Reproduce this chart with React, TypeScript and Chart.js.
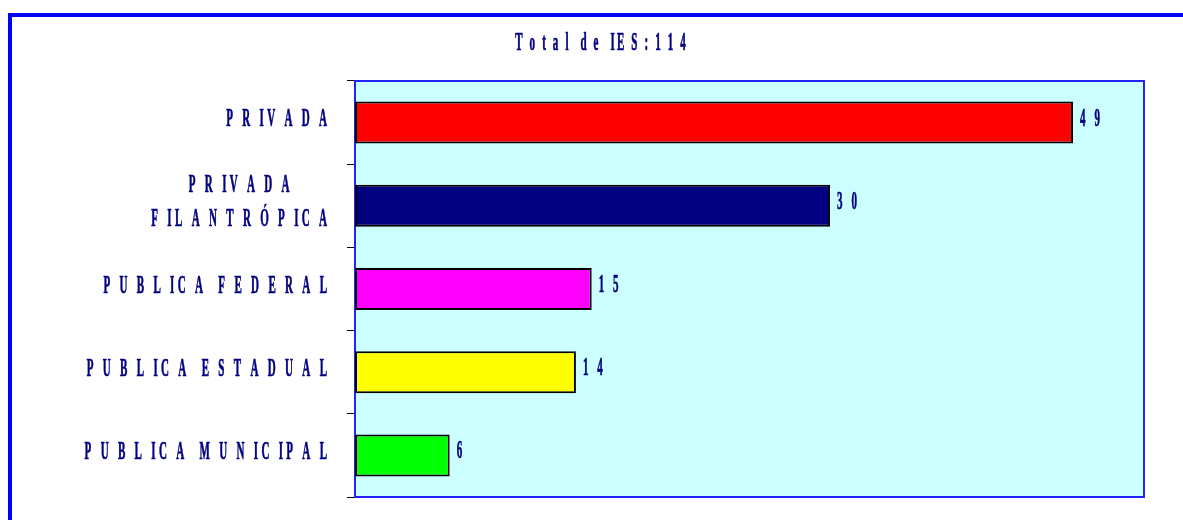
import React, { useEffect, useRef } from "react";
import { Chart, registerables } from "chart.js";

Chart.register(...registerables);

// ---- data ----
const categories = ["PRIVADA", "PRIVADA FILANTRÓPICA", "PUBLICA FEDERAL", "PUBLICA ESTADUAL", "PUBLICA MUNICIPAL"];
// category labels as printed (letter-spaced, possibly on two lines)
const categoryLines: string[][] = [
  ["P R IV A D A"],
  ["P R IV A D A", "F IL A N T R Ó P IC A"],
  ["P U B L IC A  F E D E R A L"],
  ["P U B L IC A  E S T A D U A L"],
  ["P U B L IC A  M U N IC IP A L"],
];
// bar lengths as drawn on the 0..50 axis
const barValues = [45.5, 30.1, 15, 14, 6];
// printed value labels
const valueLabels = ["4 9", "3 0", "1 5", "1 4", "6"];
const barColors = ["#FF0000", "#000080", "#FF00FF", "#FFFF00", "#00FF00"];
const titleText = "T o t a l  d e  IE S : 1 1 4";
const axisMin = 0;
const axisMax = 50;

const TEXT_COLOR = "#000080";
const FONT = 'bold 25px "Liberation Serif", "Times New Roman", serif';
const SX = 0.44;
const CAT_LS = 7.5;

function drawCondensed(
  ctx: CanvasRenderingContext2D,
  text: string,
  x: number,
  y: number,
  align: "left" | "right" | "center",
  ls: number
) {
  ctx.save();
  ctx.font = FONT;
  (ctx as any).letterSpacing = ls + "px";
  ctx.textAlign = "left";
  ctx.textBaseline = "alphabetic";
  ctx.fillStyle = TEXT_COLOR;
  ctx.strokeStyle = TEXT_COLOR;
  ctx.lineWidth = 0.7;
  ctx.lineJoin = "round";
  const w = (ctx.measureText(text).width - ls) * SX;
  let x0 = x;
  if (align === "right") x0 = x - w;
  else if (align === "center") x0 = x - w / 2;
  ctx.translate(x0, y);
  ctx.scale(SX, 1);
  ctx.fillText(text, 0, 0);
  ctx.strokeText(text, 0, 0);
  ctx.restore();
  return w;
}

const framePlugin = {
  id: "plotFrame",
  beforeDatasetsDraw(chart: any) {
    const { ctx, chartArea: a } = chart;
    ctx.save();
    ctx.fillStyle = "#CCFFFF";
    ctx.fillRect(a.left, a.top, a.right - a.left, a.bottom - a.top);
    ctx.strokeStyle = "#2222FF";
    ctx.lineWidth = 2;
    ctx.strokeRect(a.left, a.top, a.right - a.left, a.bottom - a.top);
    ctx.restore();
  },
  afterDatasetsDraw(chart: any) {
    const { ctx } = chart;
    const yScale = chart.scales.y;
    const meta = chart.getDatasetMeta(0);
    // title
    drawCondensed(ctx, titleText, chart.width / 2 + 9, 50, "center", 4.9);
    categoryLines.forEach((lines, i) => {
      const cy = yScale.getPixelForValue(i);
      if (lines.length === 1) {
        drawCondensed(ctx, lines[0], 327, cy + 3.5, "right", CAT_LS);
      } else {
        ctx.save();
        ctx.font = FONT;
        (ctx as any).letterSpacing = CAT_LS + "px";
        const widths = lines.map((l) => (ctx.measureText(l).width - CAT_LS) * SX);
        ctx.restore();
        const bw = Math.max(...widths);
        const cx = 327 - bw / 2;
        drawCondensed(ctx, lines[0], cx, cy - 14, "center", CAT_LS);
        drawCondensed(ctx, lines[1], cx, cy + 20, "center", CAT_LS);
      }
      const bar = meta.data[i];
      drawCondensed(ctx, valueLabels[i], bar.x + 7, bar.y + 3, "left", 7);
    });
  },
};

export default function App() {
  const ref = useRef<HTMLCanvasElement>(null);
  useEffect(() => {
    if (!ref.current) return;
    const chart = new Chart(ref.current, {
      type: "bar",
      data: {
        labels: categories,
        datasets: [
          {
            data: barValues,
            backgroundColor: barColors,
            borderColor: "#000000",
            borderWidth: 2,
            borderSkipped: false,
            categoryPercentage: 1,
            barPercentage: 0.505,
          },
        ],
      },
      options: {
        indexAxis: "y",
        animation: false,
        responsive: true,
        maintainAspectRatio: false,
        layout: { padding: { top: 81, right: 39, bottom: 23, left: 0 } },
        plugins: {
          legend: { display: false },
          tooltip: { enabled: false },
          title: { display: false },
        },
        scales: {
          x: { display: false, min: axisMin, max: axisMax },
          y: {
            display: true,
            ticks: { display: false },
            border: { display: false },
            grid: {
              drawOnChartArea: false,
              drawTicks: true,
              tickLength: 8,
              color: "#000000",
              lineWidth: 1,
            },
            afterFit: (scale: any) => {
              scale.width = 355;
            },
          },
        },
      },
      plugins: [framePlugin],
    });
    return () => chart.destroy();
  }, []);

  return (
    <div style={{ position: "fixed", left: 0, top: 0, width: 1183, height: 520, overflow: "hidden", background: "#fff" }}>
      <div
        style={{
          position: "absolute",
          left: 8,
          top: 13,
          width: 1300,
          height: 700,
          borderTop: "4px solid #0000FF",
          borderLeft: "4px solid #0000FF",
        }}
      />
      <div style={{ position: "absolute", left: 0, top: 0, width: 1183, height: 520 }}>
        <canvas ref={ref} />
      </div>
    </div>
  );
}
